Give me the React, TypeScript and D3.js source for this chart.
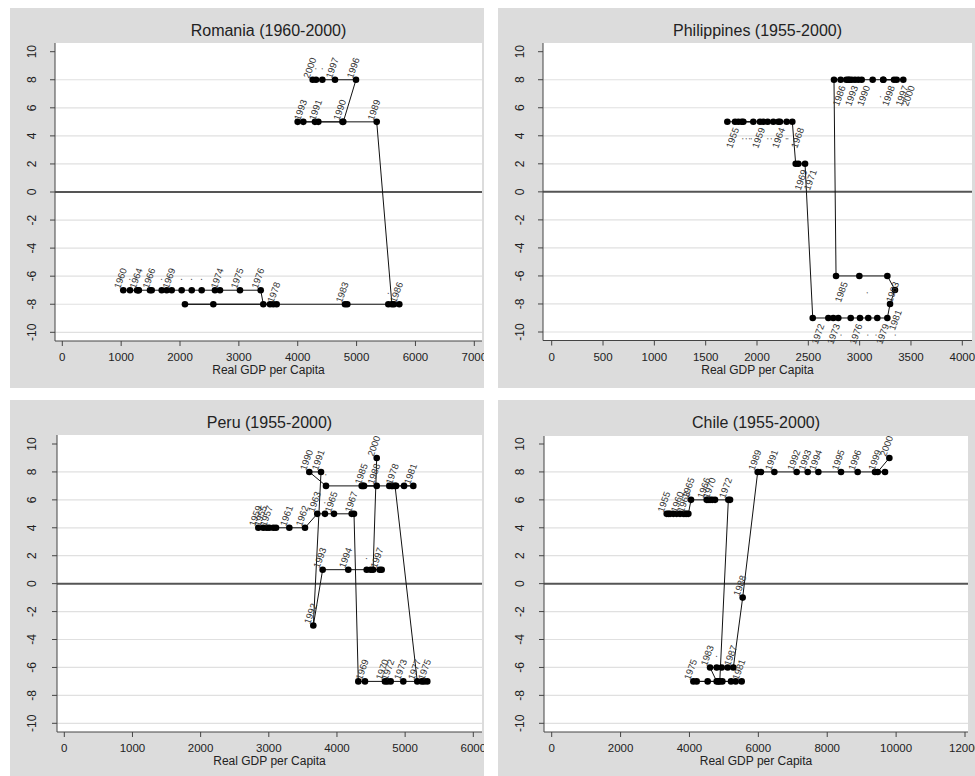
import React from 'react';
import * as d3 from 'd3';

// polity score (y) against real GDP per capita (x), one point per year

const romaniaStart = 1960;
const romaniaGdp = [
  1036, 1150, 1270, 1291, 1300, 1490, 1519, 1689, 1774, 1859, 2028, 2199, 2368, 2594, 2679, 3019, 3371,
  3415, 3642, 3585, 3529, 2566, 2084, 4803, 4842, 5539, 5726, 5636, 5600,
  5342, 4760, 4350, 3999, 4095, 4293, 4774,
  4990, 4633, 4418, 4311, 4254,
];
const romaniaPolity = [
  -7, -7, -7, -7, -7, -7, -7, -7, -7, -7, -7, -7, -7, -7, -7, -7, -7,
  -8, -8, -8, -8, -8, -8, -8, -8, -8, -8, -8, -8,
  5, 5, 5, 5, 5, 5, 5,
  8, 8, 8, 8, 8,
];
const romaniaLabels = [
  '1960', '.', '', '', '1964', '', '1966', '.', '', '1969', '.', '.', '.', '', '1974', '1975', '1976',
  '', '1978', '', '', '', '', '1983', '', '.', '1986', '', '',
  '1989', '1990', '1991', '', '1993', '', '',
  '1996', '1997', '.', '.', '2000',
];

const philippinesStart = 1955;
const philippinesGdp = [
  1711, 1786, 1818, 1851, 1964, 1867, 2029, 2062, 2104, 2159, 2208, 2224, 2289, 2344,
  2377, 2403, 2468,
  2543, 2695, 2743, 2792, 2913, 3003, 3084, 3172, 3270,
  3296, 3344, 3270, 2997, 2770,
  2750, 2815, 2923, 3020, 2987, 2889, 2955, 2870, 2900, 3127, 3230, 3361, 3230, 3335, 3425,
];
const philippinesPolity = [
  5, 5, 5, 5, 5, 5, 5, 5, 5, 5, 5, 5, 5, 5,
  2, 2, 2,
  -9, -9, -9, -9, -9, -9, -9, -9, -9,
  -8, -7, -6, -6, -6,
  8, 8, 8, 8, 8, 8, 8, 8, 8, 8, 8, 8, 8, 8, 8,
];
const philippinesLabels = [
  '1955', '.', '.', '.', '1959', '.', '.', '.', '.', '1964', '.', '.', '.', '1968',
  '1969', '.', '1971',
  '1972', '1973', '.', '', '1976', '.', '.', '1979', '.',
  '1981', '', '1983', '.', '1985',
  '1986', '', '', '', '1990', '', '', '1993', '', '.', '', '1997', '1998', '', '2000',
];

const peruStart = 1955;
const peruGdp = [
  2919, 2969, 3007, 3066, 2846, 3106, 3301, 3531,
  3711, 3824, 3956, 4216, 4250,
  4313, 4411, 4704, 4740, 4788, 4973, 5243, 5325, 5277, 5178,
  4852, 4817, 4768, 5120, 4984, 4867, 4800, 4397, 4363, 4380, 4583, 3839,
  3594, 3766, 3653,
  3790, 4166, 4436, 4495, 4627, 4656, 4530,
  4583,
];
const peruPolity = [
  4, 4, 4, 4, 4, 4, 4, 4,
  5, 5, 5, 5, 5,
  -7, -7, -7, -7, -7, -7, -7, -7, -7, -7,
  7, 7, 7, 7, 7, 7, 7, 7, 7, 7, 7, 7,
  8, 8, -3,
  1, 1, 1, 1, 1, 1, 1,
  9,
];
const peruLabels = [
  '1955', '', '1957', '', '1959', '', '1961', '1962',
  '1963', '.', '1965', '', '1967',
  '', '1969', '1970', '', '1972', '1973', '', '1975', '', '1977',
  '1978', '', '', '1981', '', '', '', '1985', '', '', '1988', '.',
  '1990', '1991', '1992',
  '1993', '1994', '.', '', '1997', '', '',
  '2000',
];

const chileStart = 1955;
const chileGdp = [
  3339, 3390, 3436, 3533, 3629, 3726, 3823, 3870, 3920, 3968,
  4045, 4500, 4540, 4597, 4742, 4660, 5178, 5129,
  4880, 4955, 4113, 4210, 4529, 4839, 5207, 5342, 5516, 4790,
  4597, 4790, 4936, 5110, 5274,
  5545,
  5981, 6078, 6465, 7113, 7433, 7742, 8400, 8884, 9387, 9678, 9465,
  9804,
];
const chilePolity = [
  5, 5, 5, 5, 5, 5, 5, 5, 5, 5,
  6, 6, 6, 6, 6, 6, 6, 6,
  -7, -7, -7, -7, -7, -7, -7, -7, -7, -7,
  -6, -6, -6, -6, -6,
  -1,
  8, 8, 8, 8, 8, 8, 8, 8, 8, 8, 8,
  9,
];
const chileLabels = [
  '1955', '', '', '', '', '1960', '', '', '1963', '',
  '1965', '1966', '', '', '', '1970', '', '1972',
  '', '', '1975', '', '', '', '', '', '1981', '.',
  '1983', '.', '', '', '1987',
  '1988',
  '1989', '', '1991', '1992', '1993', '1994', '1995', '1996', '', '', '1999',
  '2000',
];

const yTicks = [-10, -8, -6, -4, -2, 0, 2, 4, 6, 8, 10];

const font = 'Arial, "Liberation Sans", Helvetica, sans-serif';

type Box = { x: number; y: number; w: number; h: number };
type Plot = { left: number; right: number; top: number; bottom: number };

interface PanelProps {
  id: string;
  title: string;
  start: number;
  gdp: number[];
  polity: number[];
  labels: string[];
  xTicks: number[];
  bg: Box;
  plot: Plot;
  xRange: [number, number];
  yRange: [number, number];
  below?: boolean;
}

const Panel = ({ id, title, start, gdp, polity, labels, xTicks, bg, plot, xRange, yRange, below }: PanelProps) => {
  const x = d3.scaleLinear().domain([0, xTicks[xTicks.length - 1]]).range(xRange);
  const y = d3.scaleLinear().domain([-10, 10]).range(yRange);

  const pts = gdp.map((g, i) => ({ year: start + i, g, p: polity[i], label: labels[i] }));
  const line = d3.line<{ g: number; p: number }>().x(d => x(d.g)).y(d => y(d.p));

  const cx = (plot.left + plot.right) / 2;

  return (
    <g clipPath={`url(#clip-${id})`}>
      <defs>
        <clipPath id={`clip-${id}`}>
          <rect x={bg.x} y={bg.y} width={bg.w} height={bg.h} />
        </clipPath>
      </defs>
      <rect x={bg.x} y={bg.y} width={bg.w} height={bg.h} fill="#dcdcdc" />
      <rect x={plot.left} y={plot.top} width={plot.right - plot.left} height={plot.bottom - plot.top} fill="#fff" />

      {yTicks.filter(t => t !== 0 && t !== 10).map(t => (
        <line key={t} x1={plot.left} x2={plot.right} y1={y(t)} y2={y(t)} stroke="#e0e0e0" strokeWidth={1.2} />
      ))}
      <line x1={plot.left} x2={plot.right} y1={y(0)} y2={y(0)} stroke="#555" strokeWidth={2} />

      {/* y axis */}
      <line x1={plot.left} x2={plot.left} y1={plot.top} y2={plot.bottom} stroke="#444" strokeWidth={1} />
      {yTicks.map(t => (
        <g key={t}>
          <line x1={plot.left - 5} x2={plot.left} y1={y(t)} y2={y(t)} stroke="#444" />
          <text
            transform={`translate(${bg.x + 26},${y(t)}) rotate(-90)`}
            textAnchor="middle"
            fontSize={12}
            fontFamily={font}
            fill="#222"
          >
            {t}
          </text>
        </g>
      ))}

      {/* x axis */}
      <line x1={plot.left} x2={plot.right} y1={plot.bottom} y2={plot.bottom} stroke="#444" strokeWidth={1} />
      {xTicks.map(t => (
        <g key={t}>
          <line x1={x(t)} x2={x(t)} y1={plot.bottom} y2={plot.bottom + 5} stroke="#444" />
          <text x={x(t)} y={plot.bottom + 20} textAnchor="middle" fontSize={11.5} fontFamily={font} fill="#222">
            {t}
          </text>
        </g>
      ))}
      <text x={cx} y={plot.bottom + 33} textAnchor="middle" fontSize={12} fontFamily={font} fill="#222">
        Real GDP per Capita
      </text>
      <text x={cx} y={bg.y + 28} textAnchor="middle" fontSize={16} fontFamily={font} fill="#222">
        {title}
      </text>

      {/* path */}
      <path d={line(pts) ?? ''} fill="none" stroke="#111" strokeWidth={1} />
      {pts.map(d => (
        <circle key={d.year} cx={x(d.g)} cy={y(d.p)} r={3.3} fill="#000" />
      ))}
      {pts.filter(d => d.label !== '').map(d => (
        <text
          key={`l${d.year}`}
          transform={`translate(${x(d.g) + (below ? 5 : -3)},${y(d.p) + (below ? 16 : -12)}) rotate(-70)`}
          textAnchor="middle"
          dominantBaseline="central"
          fontSize={9.5}
          fontFamily={font}
          fill="#333"
        >
          {d.label}
        </text>
      ))}
    </g>
  );
};

export default function App() {
  return (
    <svg width={975} height={776} style={{ position: 'absolute', left: 0, top: 0, background: '#fff' }}>
      <Panel
        id="rom"
        title="Romania (1960-2000)"
        start={romaniaStart}
        gdp={romaniaGdp}
        polity={romaniaPolity}
        labels={romaniaLabels}
        xTicks={[0, 1000, 2000, 3000, 4000, 5000, 6000, 7000]}
        bg={{ x: 10, y: 8, w: 474, h: 380 }}
        plot={{ left: 55, right: 482, top: 43, bottom: 341 }}
        xRange={[62.3, 474.3]}
        yRange={[332.3, 51.7]}
      />
      <Panel
        id="phl"
        title="Philippines (1955-2000)"
        start={philippinesStart}
        gdp={philippinesGdp}
        polity={philippinesPolity}
        labels={philippinesLabels}
        xTicks={[0, 500, 1000, 1500, 2000, 2500, 3000, 3500, 4000]}
        bg={{ x: 498, y: 8, w: 477, h: 380 }}
        plot={{ left: 543, right: 972, top: 43, bottom: 340.5 }}
        xRange={[551.7, 962.3]}
        yRange={[332, 51.7]}
        below
      />
      <Panel
        id="per"
        title="Peru (1955-2000)"
        start={peruStart}
        gdp={peruGdp}
        polity={peruPolity}
        labels={peruLabels}
        xTicks={[0, 1000, 2000, 3000, 4000, 5000, 6000]}
        bg={{ x: 10, y: 400, w: 474, h: 376 }}
        plot={{ left: 57, right: 482, top: 435, bottom: 732 }}
        xRange={[64.3, 473.3]}
        yRange={[723.3, 444]}
      />
      <Panel
        id="chl"
        title="Chile (1955-2000)"
        start={chileStart}
        gdp={chileGdp}
        polity={chilePolity}
        labels={chileLabels}
        xTicks={[0, 2000, 4000, 6000, 8000, 10000, 12000]}
        bg={{ x: 498, y: 400, w: 477, h: 376 }}
        plot={{ left: 544, right: 968, top: 436, bottom: 732 }}
        xRange={[551.7, 965]}
        yRange={[723.3, 444]}
      />
    </svg>
  );
}
